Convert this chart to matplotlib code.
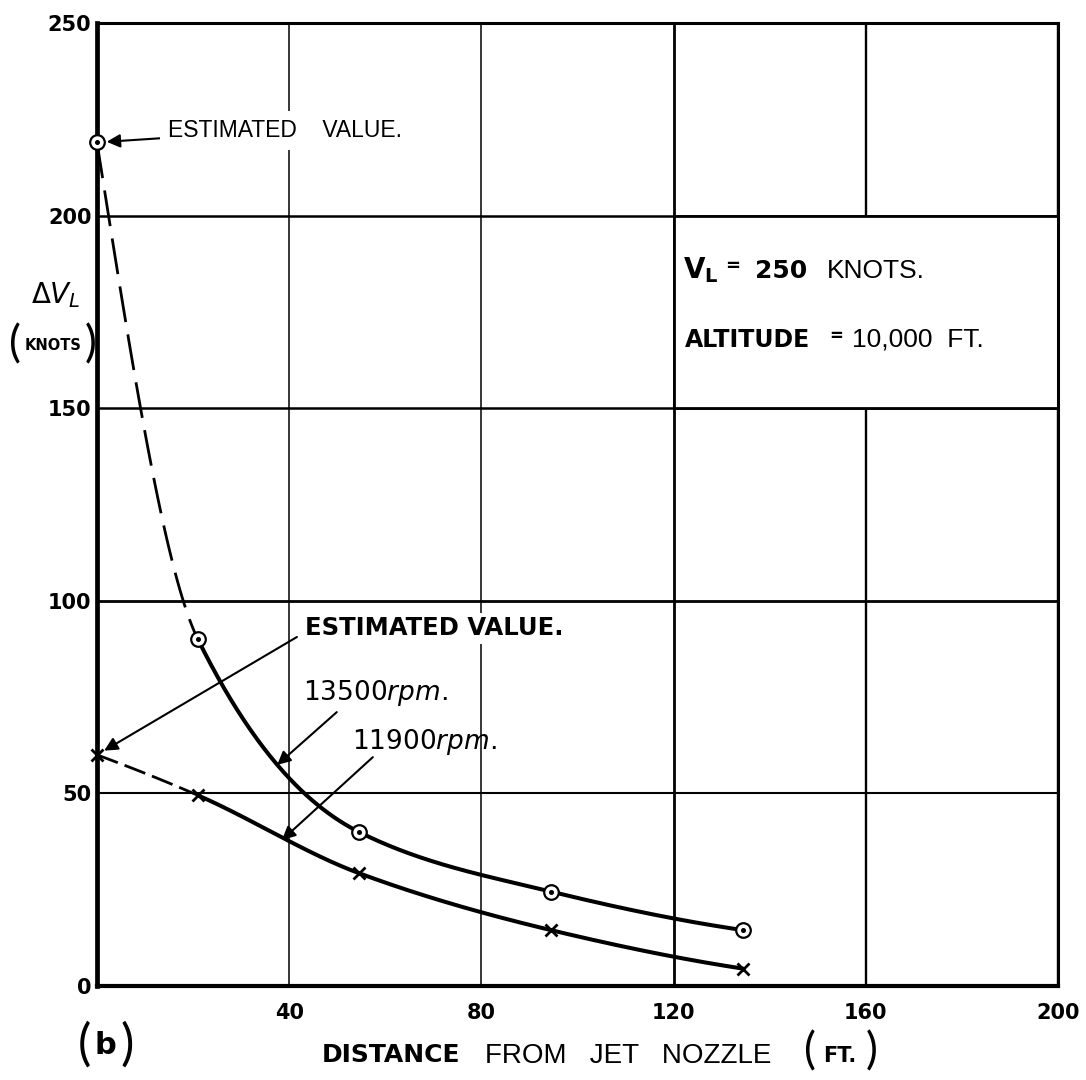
import numpy as np
import matplotlib
matplotlib.use("Agg")
import matplotlib.pyplot as plt
from matplotlib.patches import Rectangle

plt.rcParams['mathtext.fontset'] = 'dejavusans'

# ---------------- data ----------------
distance = [0, 21, 54.5, 94.5, 134.5]          # ft from jet nozzle
dv_13500 = [219, 90, 40, 24.5, 14.5]           # knots, 13500 rpm
dv_11900 = [60, 49.5, 29.3, 14.5, 4.5]         # knots, 11900 rpm
x_ticks = [40, 80, 120, 160, 200]
y_ticks = [0, 50, 100, 150, 200, 250]


def pchip(x, y, xs):
    x = np.asarray(x, float); y = np.asarray(y, float)
    h = np.diff(x); d = np.diff(y) / h
    n = len(x); m = np.zeros(n)
    for k in range(1, n - 1):
        if d[k - 1] * d[k] <= 0:
            m[k] = 0
        else:
            w1 = 2 * h[k] + h[k - 1]; w2 = h[k] + 2 * h[k - 1]
            m[k] = (w1 + w2) / (w1 / d[k - 1] + w2 / d[k])
    def end(h0, h1, d0, d1):
        s = ((2 * h0 + h1) * d0 - h0 * d1) / (h0 + h1)
        if np.sign(s) != np.sign(d0):
            s = 0
        elif np.sign(d0) != np.sign(d1) and abs(s) > abs(3 * d0):
            s = 3 * d0
        return s
    m[0] = end(h[0], h[1], d[0], d[1])
    m[-1] = end(h[-1], h[-2], d[-1], d[-2])
    xs = np.asarray(xs, float)
    idx = np.clip(np.searchsorted(x, xs) - 1, 0, n - 2)
    t = (xs - x[idx]) / h[idx]
    h00 = 2 * t**3 - 3 * t**2 + 1; h10 = t**3 - 2 * t**2 + t
    h01 = -2 * t**3 + 3 * t**2; h11 = t**3 - t**2
    return (h00 * y[idx] + h10 * h[idx] * m[idx] + h01 * y[idx + 1]
            + h11 * h[idx] * m[idx + 1])


W, H = 1086, 1080
fig = plt.figure(figsize=(W / 100, H / 100), dpi=100)
fig.patch.set_facecolor('white')
ax = fig.add_axes([97 / W, 1 - 986 / H, (1058 - 97) / W, (986 - 23) / H])
ax.set_xlim(0, 200)
ax.set_ylim(0, 250)
ax.set_xticks(x_ticks)
ax.set_yticks(y_ticks)
HAND = 'DejaVu Sans'
TYPE = 'Liberation Sans'
PAREN = ['Lato', 'Liberation Sans']
ax.set_xticklabels([str(v) for v in x_ticks], fontfamily=HAND, fontweight='bold', fontsize=15)
ax.set_yticklabels([str(v) for v in y_ticks], fontfamily=HAND, fontweight='bold', fontsize=15)
ax.tick_params(axis='both', length=0)
ax.tick_params(axis='x', pad=12)
ax.tick_params(axis='y', pad=4)
ax.set_axisbelow(True)
ax.grid(True, color='black', lw=1.7)
for gl, lw in zip(ax.xaxis.get_gridlines(), [1.1, 1.1, 2.0, 1.7, 1.7]):
    gl.set_linewidth(lw)
for gl, lw in zip(ax.yaxis.get_gridlines(), [0, 1.5, 2.0, 1.8, 1.8, 0]):
    gl.set_linewidth(lw)
ax.spines['left'].set_linewidth(3.4)
ax.spines['bottom'].set_linewidth(3.0)
ax.spines['top'].set_linewidth(2.2)
ax.spines['right'].set_linewidth(2.2)

# cell holding the conditions (no 160 gridline inside)
ax.add_patch(Rectangle((120, 150), 80, 50, facecolor='white', edgecolor='black',
                       lw=2.0, zorder=1))

# ---------------- curves ----------------
for yv, dash in ((dv_13500, (0, (13, 4.5))), (dv_11900, (0, (8, 2.6)))):
    xd = np.linspace(distance[0], distance[1], 120)
    ax.plot(xd, pchip(distance, yv, xd), color='black', lw=2.0, ls=dash,
            zorder=2, solid_capstyle='butt')
    xsld = np.linspace(distance[1], distance[-1], 500)
    ax.plot(xsld, pchip(distance, yv, xsld), color='black', lw=2.9, zorder=2,
            solid_capstyle='round')

ax.plot(distance, dv_13500, ls='none', marker='o', ms=10.5, mfc='white',
        mec='black', mew=1.6, zorder=4, clip_on=False)
ax.plot(distance, dv_13500, ls='none', marker='o', ms=2.6, mfc='black',
        mec='black', zorder=5, clip_on=False)
ax.plot(distance, dv_11900, ls='none', marker='x', ms=9, mec='black',
        mew=2.0, zorder=4, clip_on=False)

# ---------------- annotations ----------------
arrow = dict(arrowstyle='-|>', lw=1.5, color='black', mutation_scale=20,
             shrinkA=0)
ax.annotate('ESTIMATED    VALUE.', xy=(distance[0], dv_13500[0]),
            xytext=(14.8, 222.2), fontsize=16.5, fontfamily=TYPE,
            ha='left', va='center', zorder=6,
            bbox=dict(boxstyle='square,pad=0.35', fc='white', ec='none'),
            arrowprops=dict(arrow, shrinkB=7))
ax.annotate('', xy=(distance[0], dv_11900[0]), xytext=(41.6, 90.6),
            arrowprops=dict(arrow, shrinkB=6), zorder=6)
ax.text(43.3, 92.9, 'ESTIMATED VALUE.', fontfamily=HAND, fontweight='bold',
        fontsize=17.5, ha='left', va='center', zorder=6,
        bbox=dict(boxstyle='square,pad=0.15', fc='white', ec='none'))
ax.annotate('', xy=(37.5, 57.4), xytext=(49.9, 71.1),
            arrowprops=dict(arrow, shrinkB=0), zorder=6)
ax.annotate('', xy=(38.5, 37.9), xytext=(57.4, 59.4),
            arrowprops=dict(arrow, shrinkB=0), zorder=6)
ax.text(42.9, 76.1, r'13500$\mathit{rpm.}$', fontfamily=HAND, fontsize=19,
        ha='left', va='center', zorder=6)
ax.text(53.1, 63.3, r'11900$\mathit{rpm.}$', fontfamily=HAND, fontsize=19,
        ha='left', va='center', zorder=6)

# condition box text
ax.text(122.0, 183.8, r'$\mathbf{V}_{\mathbf{L}}$', fontsize=20, ha='left',
        va='baseline', zorder=6)
ax.text(130.7, 185.5, '=', fontfamily=HAND, fontweight='bold', fontsize=13,
        ha='left', va='baseline', zorder=6)
ax.text(136.9, 183.8, '250', fontfamily=HAND, fontweight='bold', fontsize=18,
        ha='left', va='baseline', zorder=6)
ax.text(151.9, 183.8, 'KNOTS.', fontfamily=TYPE, fontsize=19,
        ha='left', va='baseline', zorder=6)
ax.text(122.4, 165.9, 'ALTITUDE', fontfamily=HAND, fontweight='bold',
        fontsize=17, ha='left', va='baseline', zorder=6)
ax.text(152.4, 167.5, '=', fontfamily=HAND, fontweight='bold', fontsize=12,
        ha='left', va='baseline', zorder=6)
ax.text(157.1, 165.9, '10,000  FT.', fontfamily=TYPE, fontsize=19,
        ha='left', va='baseline', zorder=6)


# ---------------- axis titles (figure pixel positions) ----------------
def fx(px):
    return px / W


def fy(py):
    return 1 - py / H


fig.text(fx(56), fy(295), r'$\Delta V_L$', fontsize=20, ha='center', va='center')
fig.text(fx(15), fy(345), '(', fontfamily=PAREN, fontsize=32,
         ha='center', va='center')
fig.text(fx(53), fy(346), 'KNOTS', fontfamily=HAND, fontweight='bold', fontsize=10.5,
         ha='center', va='center')
fig.text(fx(91), fy(345), ')', fontfamily=PAREN, fontsize=32,
         ha='center', va='center')

fig.text(fx(322), fy(1055), 'DISTANCE', fontfamily=HAND, fontweight='bold',
         fontsize=18, ha='left', va='center')
fig.text(fx(485), fy(1056), 'FROM   JET   NOZZLE', fontfamily=TYPE, fontsize=20,
         ha='left', va='center')
fig.text(fx(810), fy(1052), '(', fontfamily=PAREN, fontsize=32,
         ha='center', va='center')
fig.text(fx(840), fy(1056), 'FT.', fontfamily=HAND, fontweight='bold', fontsize=15,
         ha='center', va='center')
fig.text(fx(872), fy(1052), ')', fontfamily=PAREN, fontsize=32,
         ha='center', va='center')

fig.text(fx(84), fy(1045), '(', fontfamily=PAREN, fontsize=36,
         ha='center', va='center')
fig.text(fx(105), fy(1046), 'b', fontfamily=HAND, fontweight='bold', fontsize=22,
         ha='center', va='center')
fig.text(fx(127), fy(1045), ')', fontfamily=PAREN, fontsize=36,
         ha='center', va='center')

fig.savefig('out.png', dpi=100, facecolor='white')
